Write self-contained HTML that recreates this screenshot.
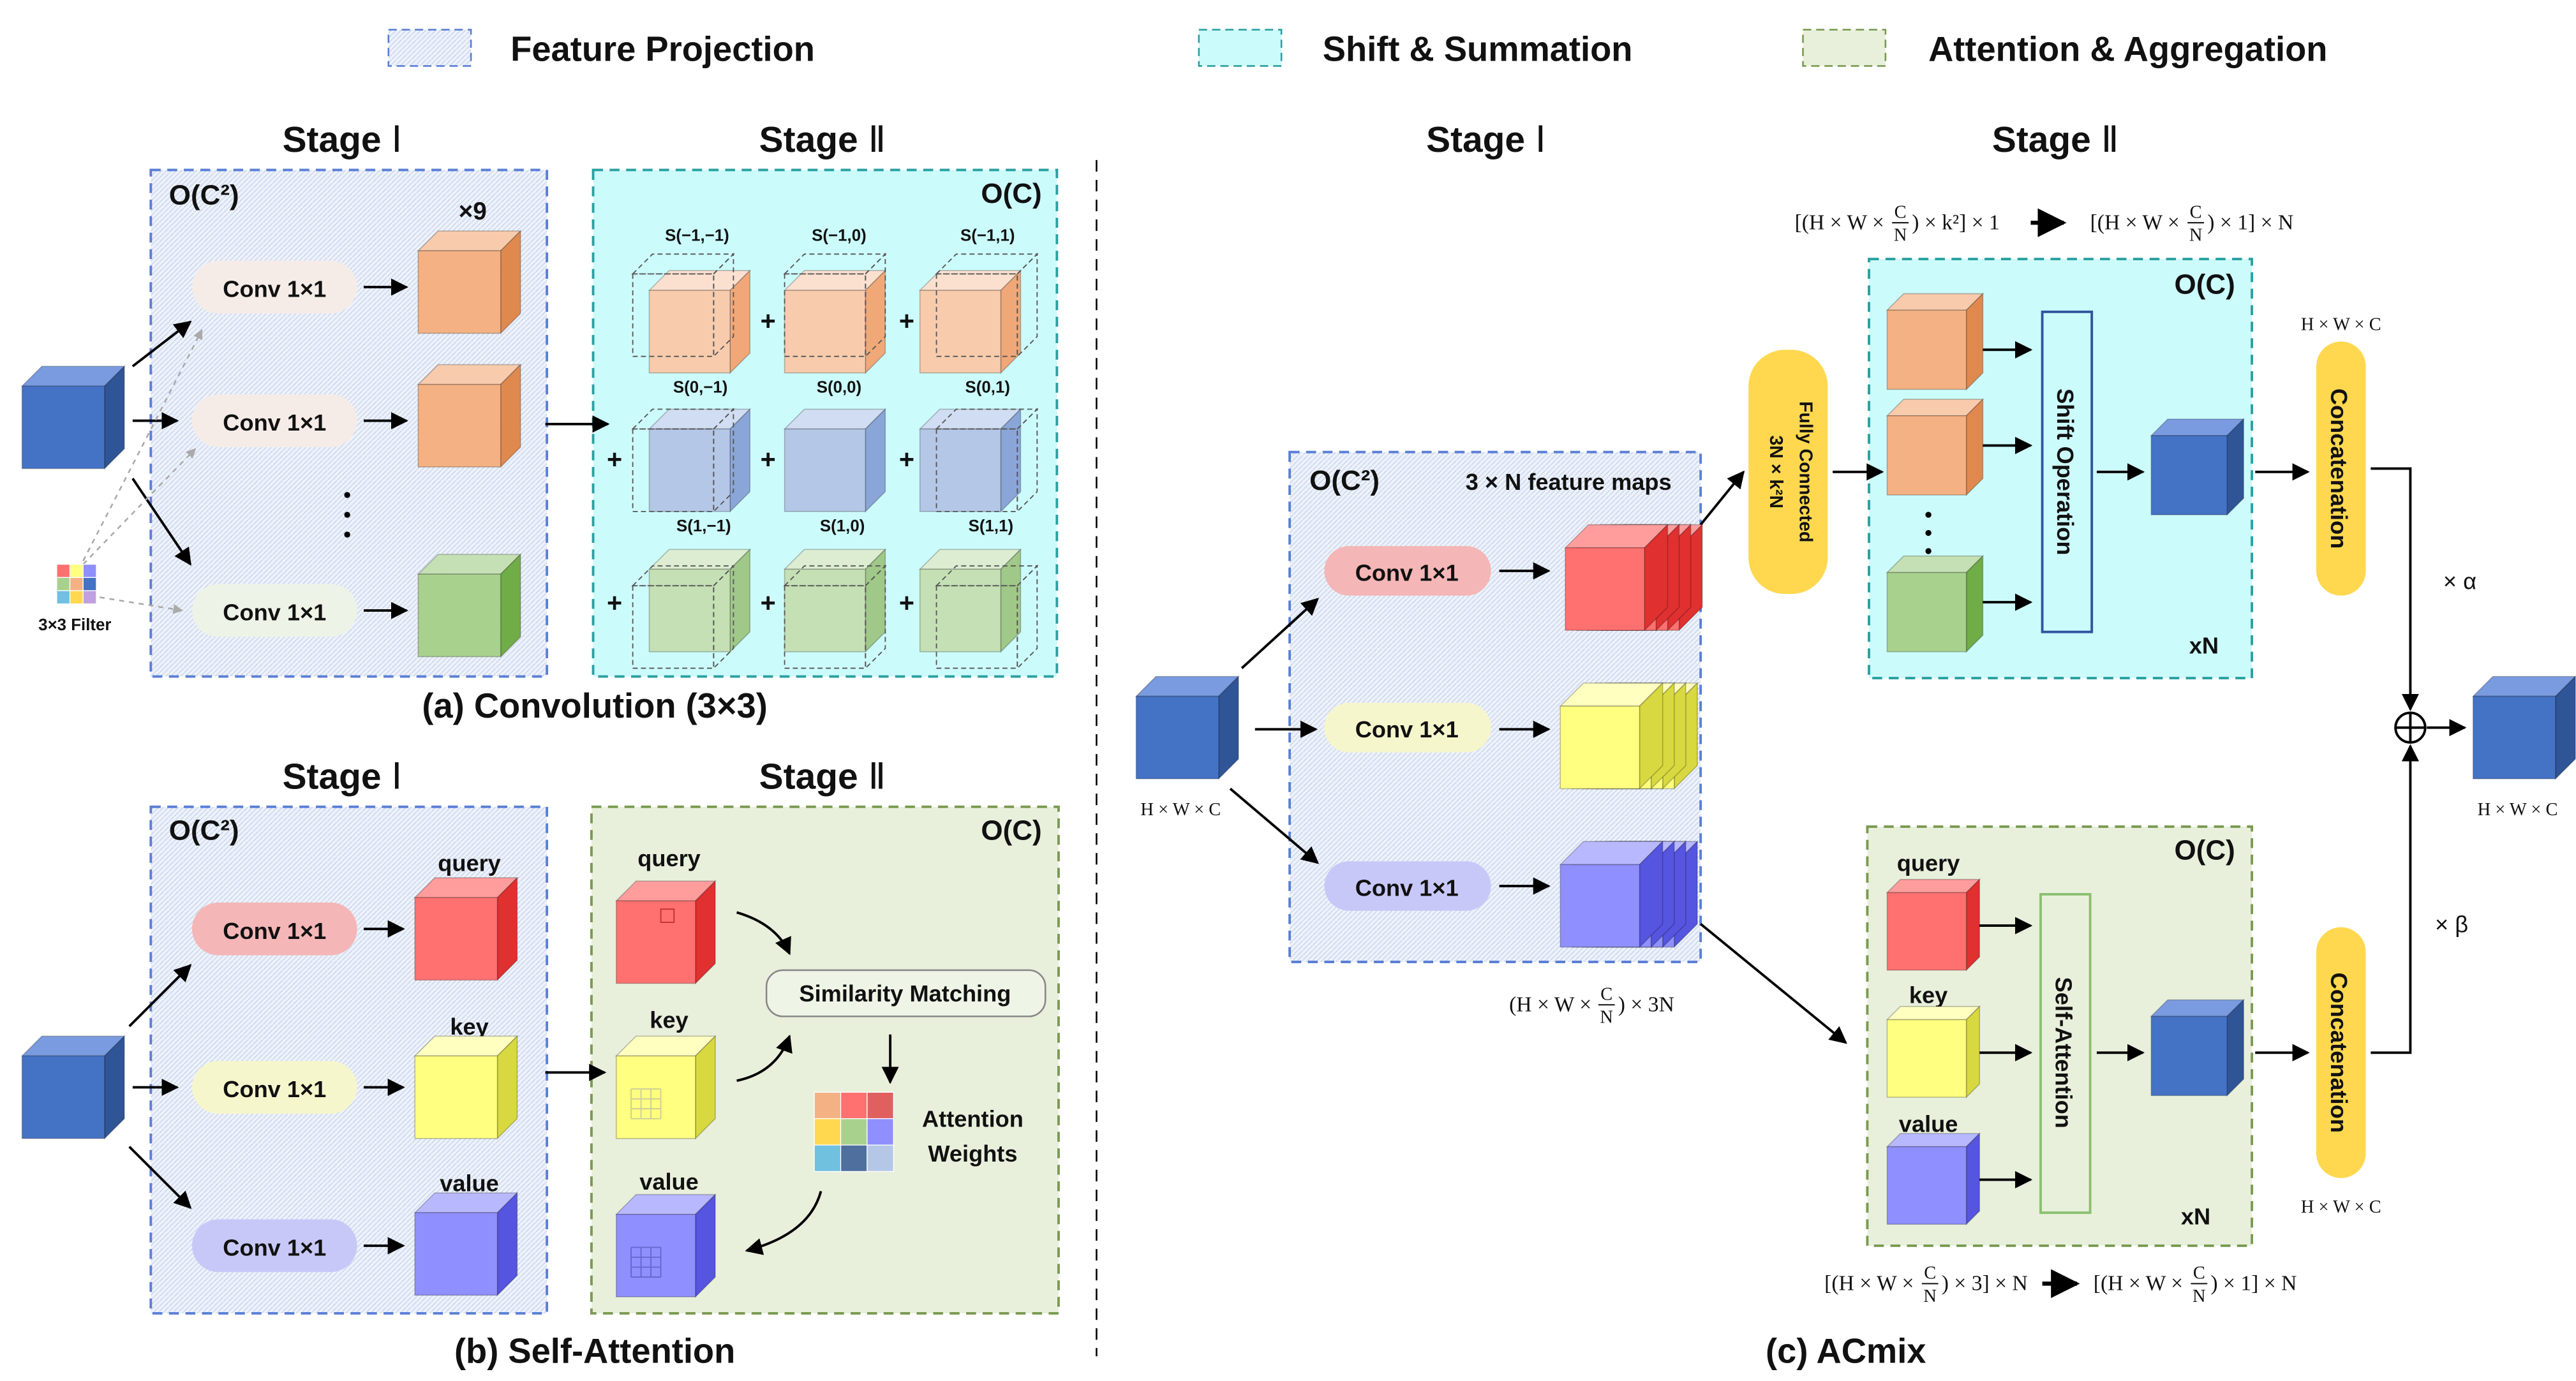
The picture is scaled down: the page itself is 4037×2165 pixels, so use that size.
<!DOCTYPE html>
<html><head><meta charset="utf-8">
<style>
html,body{margin:0;padding:0;background:#fff;}
svg{display:block;}
text{font-family:"Liberation Sans",sans-serif;fill:#111;}
.b{font-weight:bold;}
.st{font-size:22px;font-weight:bold;}
.rn{font-family:"Liberation Serif",serif;font-weight:normal;}
.cap{font-size:21px;font-weight:bold;}
.pl{font-size:14px;font-weight:bold;}
.sm{font-size:10px;font-weight:bold;}
.f{font-family:"Liberation Serif",serif;font-size:11px;}
.fm{font-family:"Liberation Serif",serif;font-size:13px;}
.fr{font-family:"Liberation Serif",serif;font-size:11px;}
</style></head>
<body>
<svg id="s" width="4037" height="2165" viewBox="0 0 1560 837" xmlns="http://www.w3.org/2000/svg">
<defs>
<marker id="ar" viewBox="0 0 10 10" refX="9" refY="5" markerWidth="7" markerHeight="7" orient="auto-start-reverse"><path d="M0,0 L10,5 L0,10 z" fill="#000"/></marker>
<marker id="arg" viewBox="0 0 10 10" refX="9" refY="5" markerWidth="6" markerHeight="6" orient="auto"><path d="M0,0 L10,5 L0,10 z" fill="#aaa"/></marker>
<pattern id="hb" width="3" height="3" patternUnits="userSpaceOnUse"><rect width="3" height="3" fill="#eef2fa"/><line x1="0" y1="3" x2="3" y2="0" stroke="#c9d5ee" stroke-width="0.6"/></pattern>
</defs>
<!-- legend -->
<rect x="235" y="18" width="50" height="22" fill="url(#hb)" stroke="#5b7fd6" stroke-dasharray="5,3"/>
<text x="309" y="37" font-size="21" class="b">Feature Projection</text>
<rect x="726" y="18" width="50" height="22" fill="#ccfbfb" stroke="#2aa0a0" stroke-dasharray="5,3"/>
<text x="801" y="37" font-size="21" class="b">Shift &amp; Summation</text>
<rect x="1092" y="18" width="50" height="22" fill="#e8f0dc" stroke="#7a9a50" stroke-dasharray="5,3"/>
<text x="1168" y="37" font-size="21" class="b">Attention &amp; Aggregation</text>

<!-- divider -->
<line x1="664" y1="97" x2="664" y2="822" stroke="#000" stroke-dasharray="7,5"/>

<!-- (a) -->
<text x="207" y="92" class="st" text-anchor="middle">Stage <tspan class="rn">Ⅰ</tspan></text>
<text x="498" y="92" class="st" text-anchor="middle">Stage <tspan class="rn">Ⅱ</tspan></text>
<rect x="91" y="103" width="240" height="307" fill="url(#hb)" stroke="#5b7fd6" stroke-width="1.5" stroke-dasharray="6,4"/>
<rect x="359" y="103" width="281" height="307" fill="#ccfbfb" stroke="#2aa0a0" stroke-width="1.5" stroke-dasharray="6,4"/>
<text x="102" y="124" font-size="17" class="b">O(C²)</text>
<text x="594" y="123" font-size="17" class="b">O(C)</text>
<text x="286" y="133" font-size="15" class="b" text-anchor="middle">×9</text>
<rect x="116" y="158" width="100" height="32" rx="16" fill="#f5ece8"/>
<rect x="116" y="239" width="100" height="32" rx="16" fill="#f5ece8"/>
<rect x="116" y="354" width="100" height="32" rx="16" fill="#edf3e6"/>
<text x="166" y="180" class="pl" text-anchor="middle">Conv 1×1</text>
<text x="166" y="261" class="pl" text-anchor="middle">Conv 1×1</text>
<text x="166" y="376" class="pl" text-anchor="middle">Conv 1×1</text>
<circle cx="210" cy="300" r="1.8" fill="#000"/><circle cx="210" cy="312" r="1.8" fill="#000"/><circle cx="210" cy="324" r="1.8" fill="#000"/>
<g stroke="#000" stroke-width="1.5" fill="none" marker-end="url(#ar)">
<line x1="220" y1="174" x2="246" y2="174"/><line x1="220" y1="255" x2="246" y2="255"/><line x1="220" y1="370" x2="246" y2="370"/>
<line x1="80" y1="222" x2="115" y2="195"/><line x1="80" y1="255" x2="107" y2="255"/><line x1="80" y1="290" x2="115" y2="342"/>
<line x1="330" y1="257" x2="368" y2="257"/>
</g>
<g stroke="#aaa" stroke-width="1" fill="none" stroke-dasharray="3,3" marker-end="url(#arg)">
<line x1="50" y1="340" x2="122" y2="200"/><line x1="50" y1="342" x2="118" y2="272"/><line x1="60" y1="362" x2="110" y2="370"/>
</g>
<text x="45" y="382" font-size="10" class="b" text-anchor="middle">3×3 Filter</text>
<g text-anchor="middle">
<text x="422" y="146" class="sm">S(−1,−1)</text><text x="508" y="146" class="sm">S(−1,0)</text><text x="598" y="146" class="sm">S(−1,1)</text>
<text x="424" y="238" class="sm">S(0,−1)</text><text x="508" y="238" class="sm">S(0,0)</text><text x="598" y="238" class="sm">S(0,1)</text>
<text x="426" y="322" class="sm">S(1,−1)</text><text x="510" y="322" class="sm">S(1,0)</text><text x="600" y="322" class="sm">S(1,1)</text>
</g>
<g font-size="16" class="b" text-anchor="middle">
<text x="465" y="200">+</text><text x="549" y="200">+</text>
<text x="372" y="284">+</text><text x="465" y="284">+</text><text x="549" y="284">+</text>
<text x="372" y="371">+</text><text x="465" y="371">+</text><text x="549" y="371">+</text>
</g>
<text x="360" y="435" class="cap" text-anchor="middle">(a) Convolution (3×3)</text>

<!-- (b) -->
<text x="207" y="478" class="st" text-anchor="middle">Stage <tspan class="rn">Ⅰ</tspan></text>
<text x="498" y="478" class="st" text-anchor="middle">Stage <tspan class="rn">Ⅱ</tspan></text>
<rect x="91" y="489" width="240" height="307" fill="url(#hb)" stroke="#5b7fd6" stroke-width="1.5" stroke-dasharray="6,4"/>
<rect x="358" y="489" width="283" height="307" fill="#e8f0dc" stroke="#7a9a50" stroke-width="1.5" stroke-dasharray="6,4"/>
<text x="102" y="509" font-size="17" class="b">O(C²)</text>
<text x="594" y="509" font-size="17" class="b">O(C)</text>
<rect x="116" y="547" width="100" height="32" rx="16" fill="#f4b6b6"/>
<rect x="116" y="643" width="100" height="32" rx="16" fill="#f6f6cc"/>
<rect x="116" y="739" width="100" height="32" rx="16" fill="#c8c8f8"/>
<text x="166" y="569" class="pl" text-anchor="middle">Conv 1×1</text>
<text x="166" y="665" class="pl" text-anchor="middle">Conv 1×1</text>
<text x="166" y="761" class="pl" text-anchor="middle">Conv 1×1</text>
<text x="284" y="528" font-size="14" class="b" text-anchor="middle">query</text>
<text x="284" y="627" font-size="14" class="b" text-anchor="middle">key</text>
<text x="284" y="722" font-size="14" class="b" text-anchor="middle">value</text>
<text x="405" y="525" font-size="14" class="b" text-anchor="middle">query</text>
<text x="405" y="623" font-size="14" class="b" text-anchor="middle">key</text>
<text x="405" y="721" font-size="14" class="b" text-anchor="middle">value</text>
<rect x="464" y="588" width="169" height="28" rx="10" fill="#eef5e6" stroke="#888"/>
<text x="548" y="607" font-size="14" class="b" text-anchor="middle">Similarity Matching</text>
<text x="589" y="683" font-size="14" class="b" text-anchor="middle">Attention</text>
<text x="589" y="704" font-size="14" class="b" text-anchor="middle">Weights</text>
<g stroke="#000" stroke-width="1.5" fill="none" marker-end="url(#ar)">
<line x1="220" y1="563" x2="244" y2="563"/><line x1="220" y1="659" x2="244" y2="659"/><line x1="220" y1="755" x2="244" y2="755"/>
<line x1="78" y1="622" x2="115" y2="585"/><line x1="80" y1="659" x2="107" y2="659"/><line x1="78" y1="695" x2="115" y2="732"/>
<line x1="330" y1="650" x2="366" y2="650"/>
<line x1="539" y1="627" x2="539" y2="656"/>
<path d="M446,553 Q470,560 478,578"/>
<path d="M446,655 Q470,650 478,628"/>
<path d="M497,722 Q490,748 452,758"/>
</g>
<text x="360" y="826" class="cap" text-anchor="middle">(b) Self-Attention</text>

<!-- (c) -->
<text x="900" y="92" class="st" text-anchor="middle">Stage <tspan class="rn">Ⅰ</tspan></text>
<text x="1245" y="92" class="st" text-anchor="middle">Stage <tspan class="rn">Ⅱ</tspan></text>
<rect x="781" y="274" width="249" height="309" fill="url(#hb)" stroke="#5b7fd6" stroke-width="1.5" stroke-dasharray="6,4"/>
<text x="793" y="297" font-size="17" class="b">O(C²)</text>
<text x="950" y="297" font-size="14" class="b" text-anchor="middle">3 × N feature maps</text>
<rect x="802" y="331" width="101" height="30" rx="15" fill="#f4b6b6"/>
<rect x="802" y="426" width="101" height="30" rx="15" fill="#f6f6cc"/>
<rect x="802" y="522" width="101" height="30" rx="15" fill="#c8c8f8"/>
<text x="852" y="352" class="pl" text-anchor="middle">Conv 1×1</text>
<text x="852" y="447" class="pl" text-anchor="middle">Conv 1×1</text>
<text x="852" y="543" class="pl" text-anchor="middle">Conv 1×1</text>
<text x="715" y="494" class="f" text-anchor="middle">H × W × C</text>

<!-- formula middle: (H×W×C/N)×3N -->
<g transform="translate(914,613)">
<text x="0" y="0" class="fm">(H × W ×</text>
<text x="59" y="-7" class="fr" text-anchor="middle">C</text><line x1="54" y1="-4" x2="64" y2="-4" stroke="#111" stroke-width="0.8"/><text x="59" y="7" class="fr" text-anchor="middle">N</text>
<text x="66" y="0" class="fm">) × 3N</text>
</g>
<!-- formula top -->
<g transform="translate(1087,139)">
<text x="0" y="0" class="fm">[(H × W ×</text>
<text x="64" y="-7" class="fr" text-anchor="middle">C</text><line x1="59" y1="-4" x2="69" y2="-4" stroke="#111" stroke-width="0.8"/><text x="64" y="7" class="fr" text-anchor="middle">N</text>
<text x="71" y="0" class="fm">) × k²] × 1</text>
</g>
<line x1="1230" y1="135" x2="1250" y2="135" stroke="#000" stroke-width="2.5" marker-end="url(#ar)"/>
<g transform="translate(1266,139)">
<text x="0" y="0" class="fm">[(H × W ×</text>
<text x="64" y="-7" class="fr" text-anchor="middle">C</text><line x1="59" y1="-4" x2="69" y2="-4" stroke="#111" stroke-width="0.8"/><text x="64" y="7" class="fr" text-anchor="middle">N</text>
<text x="71" y="0" class="fm">) × 1] × N</text>
</g>
<!-- formula bottom -->
<g transform="translate(1105,782)">
<text x="0" y="0" class="fm">[(H × W ×</text>
<text x="64" y="-7" class="fr" text-anchor="middle">C</text><line x1="59" y1="-4" x2="69" y2="-4" stroke="#111" stroke-width="0.8"/><text x="64" y="7" class="fr" text-anchor="middle">N</text>
<text x="71" y="0" class="fm">) × 3] × N</text>
</g>
<line x1="1237" y1="778" x2="1258" y2="778" stroke="#000" stroke-width="2.5" marker-end="url(#ar)"/>
<g transform="translate(1268,782)">
<text x="0" y="0" class="fm">[(H × W ×</text>
<text x="64" y="-7" class="fr" text-anchor="middle">C</text><line x1="59" y1="-4" x2="69" y2="-4" stroke="#111" stroke-width="0.8"/><text x="64" y="7" class="fr" text-anchor="middle">N</text>
<text x="71" y="0" class="fm">) × 1] × N</text>
</g>

<rect x="1059" y="212" width="48" height="148" rx="22" fill="#ffd84f"/>
<text transform="translate(1090,286) rotate(90)" font-size="11" class="b" text-anchor="middle">Fully Connected</text>
<text transform="translate(1072,286) rotate(90)" font-size="11" class="b" text-anchor="middle">3N × k²N</text>
<rect x="1132" y="157" width="232" height="254" fill="#ccfbfb" stroke="#2aa0a0" stroke-width="1.5" stroke-dasharray="6,4"/>
<text x="1317" y="178" font-size="17" class="b">O(C)</text>
<text x="1326" y="396" font-size="14" class="b">xN</text>
<rect x="1237" y="189" width="30" height="194" fill="#ccfbfb" stroke="#2f55a0" stroke-width="1.5"/>
<text transform="translate(1246,286) rotate(90)" font-size="14" class="b" text-anchor="middle">Shift Operation</text>
<circle cx="1168" cy="312" r="1.8" fill="#000"/><circle cx="1168" cy="323" r="1.8" fill="#000"/><circle cx="1168" cy="334" r="1.8" fill="#000"/>
<rect x="1403" y="207" width="30" height="154" rx="15" fill="#ffd84f"/>
<text transform="translate(1412,284) rotate(90)" font-size="14" class="b" text-anchor="middle">Concatenation</text>
<rect x="1403" y="562" width="30" height="152" rx="15" fill="#ffd84f"/>
<text transform="translate(1412,638) rotate(90)" font-size="14" class="b" text-anchor="middle">Concatenation</text>
<text x="1418" y="200" class="f" text-anchor="middle">H × W × C</text>
<text x="1418" y="735" class="f" text-anchor="middle">H × W × C</text>
<text x="1525" y="494" class="f" text-anchor="middle">H × W × C</text>
<text x="1490" y="357" font-size="14" text-anchor="middle" font-family="Liberation Serif">× α</text>
<text x="1485" y="565" font-size="14" text-anchor="middle" font-family="Liberation Serif">× β</text>
<rect x="1131" y="501" width="233" height="254" fill="#e8f0dc" stroke="#7a9a50" stroke-width="1.5" stroke-dasharray="6,4"/>
<text x="1317" y="521" font-size="17" class="b">O(C)</text>
<text x="1321" y="742" font-size="14" class="b">xN</text>
<text x="1168" y="528" font-size="14" class="b" text-anchor="middle">query</text>
<text x="1168" y="608" font-size="14" class="b" text-anchor="middle">key</text>
<text x="1168" y="686" font-size="14" class="b" text-anchor="middle">value</text>
<rect x="1236" y="542" width="30" height="193" fill="#e8f0dc" stroke="#8ac070" stroke-width="1.5"/>
<text transform="translate(1245,638) rotate(90)" font-size="14" class="b" text-anchor="middle">Self-Attention</text>
<circle cx="1460" cy="441" r="9" fill="#fff" stroke="#000" stroke-width="1.5"/>
<line x1="1451" y1="441" x2="1469" y2="441" stroke="#000" stroke-width="1.5"/><line x1="1460" y1="432" x2="1460" y2="450" stroke="#000" stroke-width="1.5"/>
<g stroke="#000" stroke-width="1.5" fill="none" marker-end="url(#ar)">
<line x1="752" y1="405" x2="798" y2="363"/><line x1="760" y1="442" x2="797" y2="442"/><line x1="745" y1="478" x2="798" y2="523"/>
<line x1="908" y1="346" x2="938" y2="346"/><line x1="908" y1="442" x2="938" y2="442"/><line x1="908" y1="537" x2="938" y2="537"/>
<line x1="1030" y1="318" x2="1056" y2="286"/>
<line x1="1030" y1="560" x2="1118" y2="632"/>
<line x1="1110" y1="286" x2="1140" y2="286"/>
<line x1="1198" y1="212" x2="1230" y2="212"/><line x1="1198" y1="270" x2="1230" y2="270"/><line x1="1198" y1="365" x2="1230" y2="365"/>
<line x1="1270" y1="286" x2="1298" y2="286"/><line x1="1366" y1="286" x2="1398" y2="286"/>
<line x1="1198" y1="561" x2="1230" y2="561"/><line x1="1198" y1="638" x2="1230" y2="638"/><line x1="1198" y1="715" x2="1230" y2="715"/>
<line x1="1270" y1="638" x2="1298" y2="638"/><line x1="1366" y1="638" x2="1398" y2="638"/>
<polyline points="1436,284 1460,284 1460,430"/>
<polyline points="1436,638 1460,638 1460,452"/>
<line x1="1470" y1="441" x2="1493" y2="441"/>
</g>
<text x="1118" y="826" class="cap" text-anchor="middle">(c) ACmix</text>
<g id="cubes"></g>
</svg>
<script>
var C={o:["#f4b183","#f8cbad","#e0894f"],g:["#a9d18e","#c5e0b4","#70ad47"],b:["#4472c4","#7a9be0","#2f5597"],
r:["#ff7070","#ff9d9d","#e03030"],y:["#ffff80","#ffffc0","#d8d840"],p:["#8f8fff","#b8b8ff","#5555e0"],
lo:["#f8cbad","#fbe0cf","#f0a878"],lb:["#b4c7e7","#d0ddf2","#8aa6d8"],lg:["#c5e0b4","#dcedd2","#a0c888"]};
var s="";
function cube(x,y,w,h,d,c,op,dash){
 var st=dash?'stroke="#555" stroke-width="0.7" stroke-dasharray="3,2" fill="none"':'stroke="rgba(0,0,0,0.25)" stroke-width="0.6"';
 if(dash){s+='<g '+st+'><rect x="'+x+'" y="'+y+'" width="'+w+'" height="'+h+'"/><polygon points="'+x+','+y+' '+(x+d)+','+(y-d)+' '+(x+w+d)+','+(y-d)+' '+(x+w)+','+y+'"/><polygon points="'+(x+w)+','+y+' '+(x+w+d)+','+(y-d)+' '+(x+w+d)+','+(y+h-d)+' '+(x+w)+','+(y+h)+'"/></g>';return;}
 s+='<polygon points="'+x+','+y+' '+(x+d)+','+(y-d)+' '+(x+w+d)+','+(y-d)+' '+(x+w)+','+y+'" fill="'+c[1]+'" '+st+'/>';
 s+='<polygon points="'+(x+w)+','+y+' '+(x+w+d)+','+(y-d)+' '+(x+w+d)+','+(y+h-d)+' '+(x+w)+','+(y+h)+'" fill="'+c[2]+'" '+st+'/>';
 s+='<rect x="'+x+'" y="'+y+'" width="'+w+'" height="'+h+'" fill="'+c[0]+'" '+st+'/>';
}
// (a)
cube(13,234,50,50,12,C.b);
cube(253,152,50,50,12,C.o);cube(253,233,50,50,12,C.o);cube(253,348,50,50,12,C.g);
var cols=[393,475,557],rows=[[176,C.lo],[260,C.lb],[345,C.lg]];
var off=[[-10,-10],[-10,0],[-10,10],[0,-10],[0,0],[0,10],[10,-10],[10,0],[10,10]];
for(var r=0;r<3;r++)for(var c=0;c<3;c++){var k=r*3+c;var x=cols[c],y=rows[r][0];
 cube(x,y,49,50,12,rows[r][1]);
 if(k!=4)cube(x+off[k][1],y+off[k][0],49,50,12,null,0,true);}
// filter
var fc=["#ff7070","#ffff80","#8f8fff","#a9d18e","#f4b183","#4472c4","#70c0e0","#ffd84f","#c0a0e0"];
for(var i=0;i<9;i++)s+='<rect x="'+(34+(i%3)*8)+'" y="'+(342+Math.floor(i/3)*8)+'" width="8" height="8" fill="'+fc[i]+'" stroke="#fff" stroke-width="0.5"/>';
// (b)
cube(13,640,50,50,12,C.b);
cube(251,544,50,50,12,C.r);cube(251,640,50,50,12,C.y);cube(251,735,50,50,12,C.p);
cube(373,546,48,50,12,C.r);cube(373,640,48,50,12,C.y);cube(373,736,48,50,12,C.p);
s+='<rect x="400" y="551" width="8" height="8" fill="none" stroke="#c03030" stroke-width="0.7"/>';
for(var i=0;i<4;i++){s+='<line x1="'+(382+i*6)+'" y1="660" x2="'+(382+i*6)+'" y2="678" stroke="#cc9" stroke-width="0.7"/><line x1="382" y1="'+(660+i*6)+'" x2="400" y2="'+(660+i*6)+'" stroke="#cc9" stroke-width="0.7"/>';
 s+='<line x1="'+(382+i*6)+'" y1="756" x2="'+(382+i*6)+'" y2="774" stroke="#66c" stroke-width="0.7"/><line x1="382" y1="'+(756+i*6)+'" x2="400" y2="'+(756+i*6)+'" stroke="#66c" stroke-width="0.7"/>';}
var aw=["#f4b183","#ff7070","#e06060","#ffd84f","#a9d18e","#8f8fff","#70c0e0","#4f6f9f","#b4c7e7"];
for(var i=0;i<9;i++)s+='<rect x="'+(493+(i%3)*16)+'" y="'+(662+Math.floor(i/3)*16)+'" width="16" height="16" fill="'+aw[i]+'" stroke="#fff" stroke-width="0.5"/>';
// (c)
cube(688,422,50,50,12,C.b);
for(var i=3;i>=0;i--){cube(948+i*7,332,48,50,14,C.r);}
for(var i=3;i>=0;i--){cube(945+i*7,428,48,50,14,C.y);}
for(var i=3;i>=0;i--){cube(945+i*7,524,48,50,14,C.p);}
cube(1143,188,48,48,10,C.o);cube(1143,252,48,48,10,C.o);cube(1143,347,48,48,10,C.g);
cube(1303,264,46,48,10,C.b);
cube(1143,541,48,47,8,C.r);cube(1143,618,48,47,8,C.y);cube(1143,695,48,47,8,C.p);
cube(1303,616,46,48,10,C.b);
cube(1498,422,50,50,12,C.b);
document.getElementById("cubes").innerHTML=s;
</script>
</body></html>
